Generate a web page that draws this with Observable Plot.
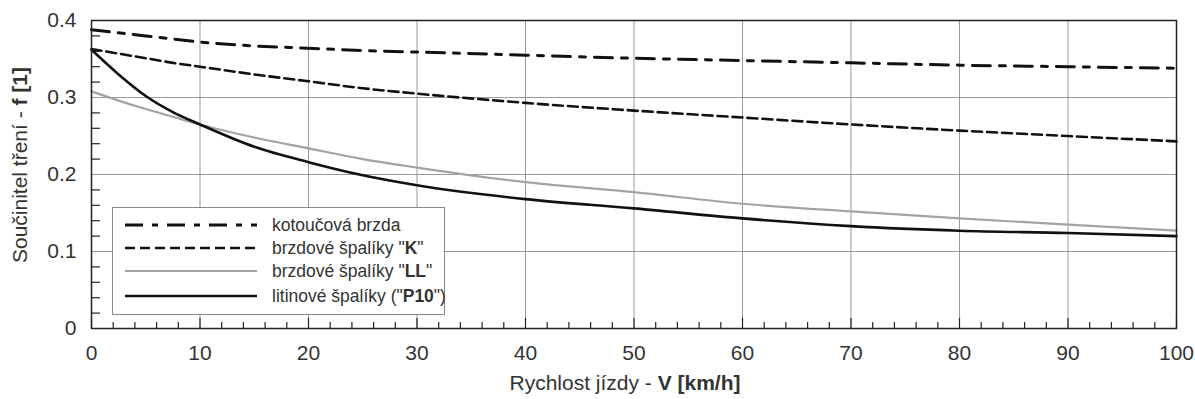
<!DOCTYPE html>
<html>
<head>
<meta charset="utf-8">
<script src="https://cdn.jsdelivr.net/npm/d3@7"></script>
<script src="https://cdn.jsdelivr.net/npm/@observablehq/plot@0.6"></script>
<style>
  body { margin: 0; background: #fff; }
  #wrap { position: relative; width: 1195px; height: 399px; font-family: "Liberation Sans", Arial, sans-serif; }
  #legend { position: absolute; left: 112px; top: 207px; width: 333px; height: 108px; background: #fff; border: 1px solid #8a8a8a; box-sizing: border-box; }
  .row { position: absolute; left: 12px; height: 22px; display: flex; align-items: center; font-size: 17.5px; color: #333; white-space: nowrap; }
  .row svg { margin-right: 15px; flex: none; }
</style>
</head>
<body>
<div id="wrap"></div>
<script>
// Speed (km/h)
const speed = [0, 2.5, 5, 7.5, 10, 15, 20, 25, 30, 40, 50, 60, 70, 80, 90, 100];
// kotoučová brzda
const disc  = [0.388, 0.384, 0.380, 0.376, 0.372, 0.367, 0.364, 0.361, 0.359, 0.355, 0.351, 0.348, 0.345, 0.342, 0.340, 0.338];
// brzdové špalíky "K"
const padK  = [0.363, 0.357, 0.351, 0.345, 0.340, 0.330, 0.321, 0.312, 0.305, 0.293, 0.283, 0.274, 0.265, 0.257, 0.250, 0.243];
// brzdové špalíky "LL"
const padLL = [0.308, 0.296, 0.285, 0.275, 0.265, 0.248, 0.234, 0.220, 0.209, 0.190, 0.177, 0.162, 0.152, 0.143, 0.135, 0.127];
// litinové špalíky ("P10")
const p10   = [0.362, 0.330, 0.302, 0.281, 0.265, 0.236, 0.216, 0.199, 0.186, 0.168, 0.156, 0.143, 0.133, 0.127, 0.124, 0.120];

const xTicks = [0, 10, 20, 30, 40, 50, 60, 70, 80, 90, 100];
const xMinor = d3.range(2, 100, 2).filter(v => v % 10 !== 0);
const yTicks = [0, 0.1, 0.2, 0.3, 0.4];
const yMinor = d3.range(0.02, 0.4, 0.02).filter(v => Math.abs(v * 10 - Math.round(v * 10)) > 1e-6);

const series = [
  {name: "kotoučová brzda", vals: disc, stroke: "#111", width: 3, dash: "18,9,6,9"},
  {name: "brzdové špalíky \"K\"", vals: padK, stroke: "#111", width: 2.6, dash: "10,5"},
  {name: "brzdové špalíky \"LL\"", vals: padLL, stroke: "#a3a3a3", width: 2.2, dash: null},
  {name: "litinové špalíky (\"P10\")", vals: p10, stroke: "#111", width: 2.6, dash: null}
];

const lineMarks = series.map(s =>
  Plot.line(speed.map((v, i) => ({v, f: s.vals[i]})), {
    x: "v", y: "f", stroke: s.stroke, strokeWidth: s.width,
    strokeDasharray: s.dash, curve: "monotone-x"
  })
);

const fmt = d => d === 0 ? "0" : d.toFixed(1);

const W = 1195, H = 399, mL = 91, mR = 19, mT = 20, mB = 71;
const innerW = W - mL - mR, innerH = H - mT - mB;

const chart = Plot.plot({
  width: W, height: H,
  marginLeft: mL, marginRight: mR, marginTop: mT, marginBottom: mB,
  style: {fontFamily: "Liberation Sans, Arial, sans-serif", fontSize: "20px", color: "#333", background: "#fff"},
  x: {domain: [0, 100]},
  y: {domain: [0, 0.4]},
  marks: [
    Plot.gridX(xTicks.slice(1, -1), {stroke: "#8a909a", strokeOpacity: 0.9, strokeWidth: 1}),
    Plot.gridY(yTicks.slice(1, -1), {stroke: "#8a909a", strokeOpacity: 0.9, strokeWidth: 1}),
    Plot.axisX(xTicks, {tickSize: 0, tickPadding: 17, tickFormat: d => String(d), label: null, fill: "#333", fontSize: 21}),
    Plot.axisY(yTicks, {tickSize: 0, tickPadding: 15, tickFormat: fmt, label: null, fill: "#333", fontSize: 21}),
    // inward minor / major ticks
    Plot.ruleX(xMinor, {insetTop: innerH - 6, stroke: "#222", strokeWidth: 1.2}),
    Plot.ruleX(xTicks, {insetTop: innerH - 10, stroke: "#222", strokeWidth: 1.2}),
    Plot.ruleY(yMinor, {insetRight: innerW - 9, stroke: "#222", strokeWidth: 1.2}),
    ...lineMarks,
    Plot.frame({stroke: "#222", strokeWidth: 1.5})
  ]
});

const wrap = document.getElementById("wrap");
wrap.appendChild(chart);

const svg = d3.select(chart);

// Axis labels with bold parts
const xl = svg.append("text")
  .attr("x", 625).attr("y", 390).attr("text-anchor", "middle")
  .attr("font-size", 21).attr("fill", "#333");
xl.append("tspan").text("Rychlost jízdy - ");
xl.append("tspan").attr("font-weight", "bold").text("V [km/h]");

const yl = svg.append("text")
  .attr("transform", "translate(27,165) rotate(-90)").attr("text-anchor", "middle")
  .attr("font-size", 21).attr("fill", "#333");
yl.append("tspan").text("Součinitel tření - ");
yl.append("tspan").attr("font-weight", "bold").text("f [1]");

// Legend
const legend = document.createElement("div");
legend.id = "legend";
const labelsHTML = [
  "kotoučová brzda",
  "brzdové špalíky \"<b>K</b>\"",
  "brzdové špalíky \"<b>LL</b>\"",
  "litinové špalíky (\"<b>P10</b>\")"
];
const rowTops = [6, 29, 52, 77];
series.forEach((s, i) => {
  const row = document.createElement("div");
  row.className = "row";
  row.style.top = rowTops[i] + "px";
  row.innerHTML = `<svg width="132" height="8"><line x1="0" y1="4" x2="132" y2="4" stroke="${s.stroke}" stroke-width="${s.width}" ${s.dash ? `stroke-dasharray="${s.dash}"` : ""}/></svg><span>${labelsHTML[i]}</span>`;
  legend.appendChild(row);
});
wrap.appendChild(legend);
</script>
</body>
</html>
